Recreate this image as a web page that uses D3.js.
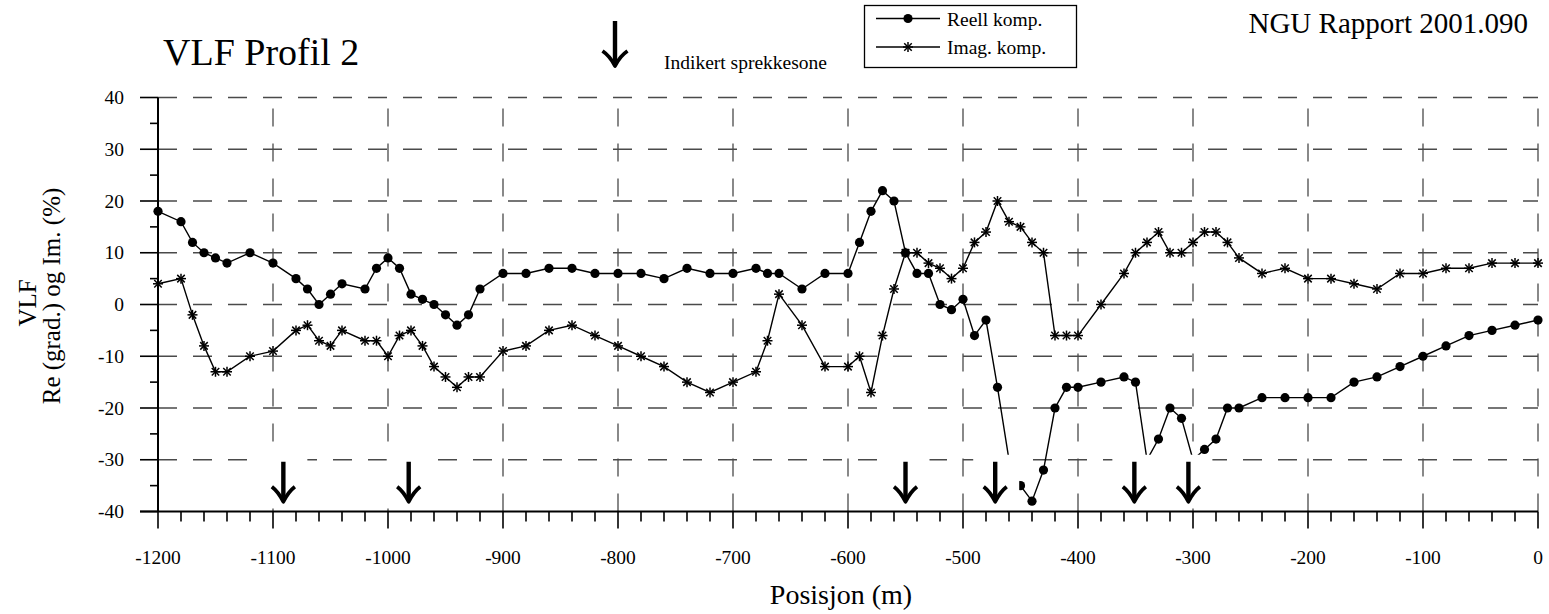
<!DOCTYPE html>
<html><head><meta charset="utf-8">
<script src="https://cdn.jsdelivr.net/npm/d3@7"></script>
<style>
html,body{margin:0;padding:0;background:#fff;}
svg{display:block;}
text{font-family:"Liberation Serif","Times New Roman",serif;fill:#000;}
</style></head>
<body>
<svg id="c" width="1549" height="614"></svg>
<script>
// ---- data ----
const positions = [-1200,-1180,-1170,-1160,-1150,-1140,-1120,-1100,-1080,-1070,-1060,-1050,-1040,-1020,-1010,-1000,-990,-980,-970,-960,-950,-940,-930,-920,-900,-880,-860,-840,-820,-800,-780,-760,-740,-720,-700,-680,-670,-660,-640,-620,-600,-590,-580,-570,-560,-550,-540,-530,-520,-510,-500,-490,-480,-470,-460,-450,-440,-430,-420,-410,-400,-380,-360,-350,-340,-330,-320,-310,-300,-290,-280,-270,-260,-240,-220,-200,-180,-160,-140,-120,-100,-80,-60,-40,-20,0];
const reellKomp = [18,16,12,10,9,8,10,8,5,3,0,2,4,3,7,9,7,2,1,0,-2,-4,-2,3,6,6,7,7,6,6,6,5,7,6,6,7,6,6,3,6,6,12,18,22,20,10,6,6,0,-1,1,-6,-3,-16,-30,-35,-38,-32,-20,-16,-16,-15,-14,-15,-30,-26,-20,-22,-30,-28,-26,-20,-20,-18,-18,-18,-18,-15,-14,-12,-10,-8,-6,-5,-4,-3];
const imagKomp = [4,5,-2,-8,-13,-13,-10,-9,-5,-4,-7,-8,-5,-7,-7,-10,-6,-5,-8,-12,-14,-16,-14,-14,-9,-8,-5,-4,-6,-8,-10,-12,-15,-17,-15,-13,-7,2,-4,-12,-12,-10,-17,-6,3,10,10,8,7,5,7,12,14,20,16,15,12,10,-6,-6,-6,0,6,10,12,14,10,10,12,14,14,12,9,6,7,5,5,4,3,6,6,7,7,8,8,8];
const sprekkesoner = [-1091,-982,-550,-472,-351,-304];
const xTicks = [-1200,-1100,-1000,-900,-800,-700,-600,-500,-400,-300,-200,-100,0];
const yTicks = [-40,-30,-20,-10,0,10,20,30,40];
const seriesNames = ["Reell komp.","Imag. komp."];

// ---- layout ----
const svg = d3.select("#c");
const x = d3.scaleLinear().domain([-1200,0]).range([158,1538]);
const y = d3.scaleLinear().domain([-40,40]).range([511.5,97.5]);
const FS = 19.5;

// grid
const grid = svg.append("g").attr("stroke","#4a4a4a").attr("stroke-width",1.3).attr("fill","none");
yTicks.filter(v=>v>-40).forEach(v=>{
  grid.append("line").attr("x1",x(-1200)).attr("x2",x(0)).attr("y1",y(v)).attr("y2",y(v))
    .attr("stroke-dasharray","19,16");
});
xTicks.filter(v=>v>-1200).forEach(v=>{
  grid.append("line").attr("x1",x(v)).attr("x2",x(v)).attr("y1",y(-40)).attr("y2",y(40))
    .attr("stroke-dasharray","18,17");
});

// data
const rows = positions.map((p,i)=>({p, re:reellKomp[i], im:imagKomp[i]}));
const lineRe = d3.line().x(d=>x(d.p)).y(d=>y(d.re));
const lineIm = d3.line().x(d=>x(d.p)).y(d=>y(d.im));
svg.append("path").attr("d",lineIm(rows)).attr("fill","none").attr("stroke","#000").attr("stroke-width",1.4);
svg.append("path").attr("d",lineRe(rows)).attr("fill","none").attr("stroke","#000").attr("stroke-width",1.4);

function star(g,cx,cy,r){
  const s = g.append("g").attr("stroke","#000").attr("stroke-width",1.5);
  s.append("line").attr("x1",cx-r).attr("x2",cx+r).attr("y1",cy).attr("y2",cy);
  s.append("line").attr("x1",cx).attr("x2",cx).attr("y1",cy-r).attr("y2",cy+r);
  const d = r*0.75;
  s.append("line").attr("x1",cx-d).attr("x2",cx+d).attr("y1",cy-d).attr("y2",cy+d);
  s.append("line").attr("x1",cx-d).attr("x2",cx+d).attr("y1",cy+d).attr("y2",cy-d);
}
const mk = svg.append("g");
rows.forEach(d=>star(mk,x(d.p),y(d.im),5));
mk.selectAll("circle").data(rows).enter().append("circle")
  .attr("cx",d=>x(d.p)).attr("cy",d=>y(d.re)).attr("r",4.6).attr("fill","#000");

// arrows (with white boxes covering the lines)
function arrow(g,cx,top,bot,hw){
  g.append("line").attr("x1",cx).attr("x2",cx).attr("y1",top).attr("y2",bot-3)
    .attr("stroke","#000").attr("stroke-width",4.4);
  g.append("path").attr("d",`M${cx-hw},${bot-15} Q${cx-5},${bot-10} ${cx},${bot} Q${cx+5},${bot-10} ${cx+hw},${bot-15}`)
    .attr("fill","none").attr("stroke","#000").attr("stroke-width",3.8).attr("stroke-linejoin","round");
}
const ag = svg.append("g");
sprekkesoner.forEach(v=>{
  const cx = x(v);
  ag.append("rect").attr("x",cx-22).attr("y",y(-30)-5).attr("width",46).attr("height",y(-40)-y(-30)+2).attr("fill","#fff");
});
sprekkesoner.forEach(v=>{
  const cx = x(v);
  arrow(ag,cx,y(-30)+2,y(-30)+42,11.5);
});

// axes
const ax = svg.append("g").attr("stroke","#000");
ax.append("line").attr("x1",x(-1200)).attr("x2",x(-1200)).attr("y1",y(40)).attr("y2",y(-40)).attr("stroke-width",2);
ax.append("line").attr("x1",x(-1200)-18).attr("x2",x(0)).attr("y1",y(-40)).attr("y2",y(-40)).attr("stroke-width",2);
d3.range(-40,41,5).forEach(v=>{
  const major = v%10===0;
  ax.append("line").attr("x1",x(-1200)-(major?18:8)).attr("x2",x(-1200)).attr("y1",y(v)).attr("y2",y(v)).attr("stroke-width",1.6);
});
d3.range(-1200,1,20).forEach(v=>{
  const major = v%100===0;
  ax.append("line").attr("x1",x(v)).attr("x2",x(v)).attr("y1",y(-40)).attr("y2",y(-40)+(major?17:10)).attr("stroke-width",1.6);
});

// tick labels
svg.append("g").selectAll("text").data(yTicks).enter().append("text")
  .attr("x",124).attr("y",d=>y(d)+6.6).attr("text-anchor","end").attr("font-size",FS).text(d=>d);
svg.append("g").selectAll("text").data(xTicks).enter().append("text")
  .attr("x",d=>x(d)).attr("y",564).attr("text-anchor","middle").attr("font-size",FS).text(d=>d);

// axis titles
svg.append("text").attr("x",841).attr("y",604).attr("text-anchor","middle").attr("font-size",28).text("Posisjon (m)");
svg.append("text").attr("transform","translate(36,303) rotate(-90)").attr("text-anchor","middle").attr("font-size",25).text("VLF");
svg.append("text").attr("transform","translate(60,296) rotate(-90)").attr("text-anchor","middle").attr("font-size",25).text("Re (grad.) og Im. (%)");

// titles
svg.append("text").attr("x",163).attr("y",65).attr("font-size",38).text("VLF Profil 2");
svg.append("text").attr("x",1528).attr("y",33).attr("text-anchor","end").attr("font-size",29).text("NGU Rapport 2001.090");

// legend arrow
arrow(svg.append("g"),615,21,66,12.5);
svg.append("text").attr("x",664).attr("y",69).attr("font-size",FS).text("Indikert sprekkesone");

// legend box
const lg = svg.append("g");
lg.append("rect").attr("x",864.5).attr("y",5.5).attr("width",212).attr("height",62).attr("fill","#fff").attr("stroke","#000").attr("stroke-width",1.3);
lg.append("line").attr("x1",876).attr("x2",940).attr("y1",18.5).attr("y2",18.5).attr("stroke","#000").attr("stroke-width",1.3);
lg.append("circle").attr("cx",908).attr("cy",18.5).attr("r",4.6).attr("fill","#000");
lg.append("text").attr("x",947).attr("y",25.5).attr("font-size",FS).text(seriesNames[0]);
lg.append("line").attr("x1",876).attr("x2",940).attr("y1",47).attr("y2",47).attr("stroke","#000").attr("stroke-width",1.3);
star(lg,908,47,5);
lg.append("text").attr("x",947).attr("y",54).attr("font-size",FS).text(seriesNames[1]);
</script>
</body></html>
